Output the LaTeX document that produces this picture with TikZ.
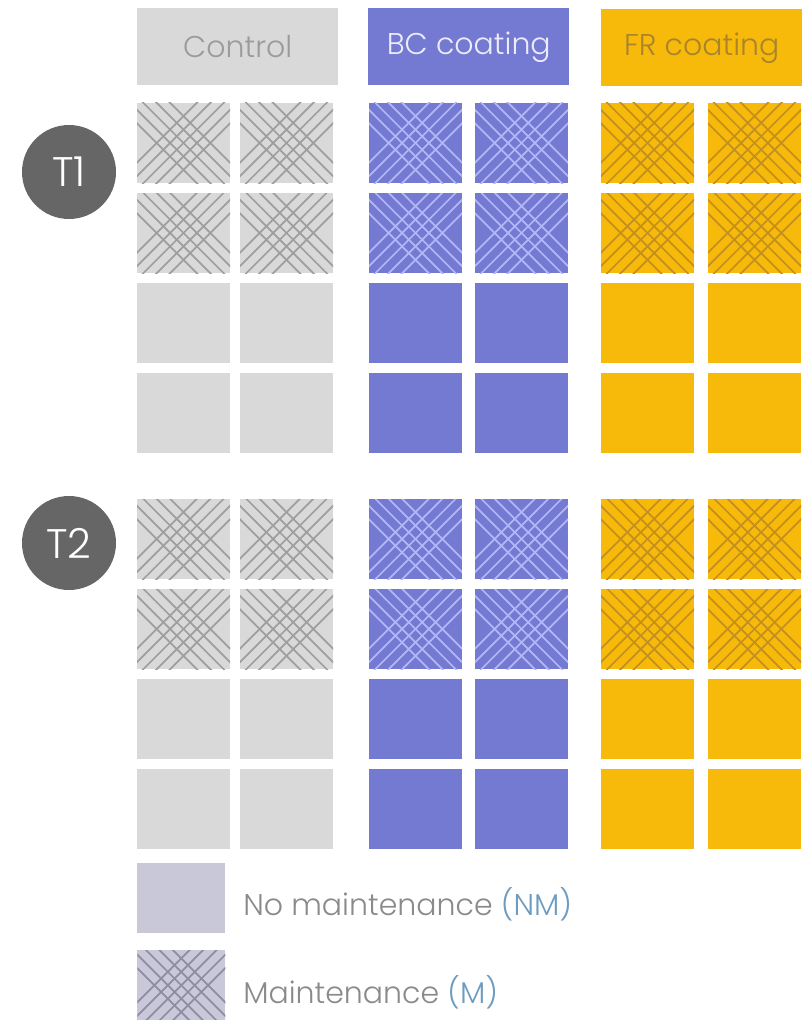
\documentclass[tikz,border=0pt]{standalone}
\usepackage{fontspec}
\IfFontExistsTF{Poppins Light}{\setmainfont{Poppins Light}}{\setmainfont{Poppins}}
\definecolor{ctrl}{HTML}{D9D9D9}
\definecolor{ctrlhatch}{HTML}{9E9E9E}
\definecolor{bc}{HTML}{7479D1}
\definecolor{bchatch}{HTML}{B4B7F7}
\definecolor{fr}{HTML}{F7BA0B}
\definecolor{frhatch}{HTML}{C38F1E}
\definecolor{circ}{HTML}{666666}
\definecolor{leg}{HTML}{C9C8D8}
\definecolor{leghatch}{HTML}{8D8CA3}
\definecolor{legtext}{HTML}{8A8A8A}
\definecolor{legblue}{HTML}{6E9BC0}
\definecolor{ctrltext}{HTML}{9B9B9B}
\definecolor{bctext}{HTML}{ECECFB}
\definecolor{frtext}{HTML}{A9842C}
\begin{document}
\begin{tikzpicture}[x=0.75pt,y=-0.75pt,
  cell/.style={rectangle, minimum width=93*0.75pt, minimum height=80*0.75pt, inner sep=0pt, outer sep=0pt, anchor=north west},
  header/.style={rectangle, minimum width=201*0.75pt, minimum height=77*0.75pt, inner sep=0pt, anchor=north west, font=\fontsize{22.5}{26}\selectfont},
  legbox/.style={rectangle, fill=leg, minimum width=88*0.75pt, minimum height=70*0.75pt, inner sep=0pt, anchor=north west},
  legtxt/.style={anchor=base west, inner sep=0pt, text=legtext, font=\fontsize{22.5}{26}\selectfont},
  tcirc/.style={circle, fill=circ, minimum size=94*0.75pt, inner sep=0pt, text=white, font=\fontsize{31}{36}\selectfont},
  hatch/.style={path picture={
    \foreach \k in {-2,-1,...,2}{
      \draw[#1,line width=1.3pt] (path picture bounding box.center) ++({\k*6.72-50},{-\k*6.72-50}) -- ++(100,100);
      \draw[#1,line width=1.3pt] (path picture bounding box.center) ++({\k*6.72-50},{\k*6.72+50}) -- ++(100,-100);
    }}}
]
\useasboundingbox (0,0) rectangle (810,1020);
% headers
\node[header, fill=ctrl, text=ctrltext] (hC) at (137,8) {Control};
\node[header, fill=bc, text=bctext] (hB) at (368,8) {BC coating};
\node[header, fill=fr, text=frtext] (hF) at (601,9) {FR coating};
% circles
\node[tcirc] (T1) at (69,172) {T1};
\node[tcirc] (T2) at (69,543) {T2};
% cells
\foreach \g/\fc/\hc/\xa/\xb in {C/ctrl/ctrlhatch/137/240, B/bc/bchatch/369/475, F/fr/frhatch/601/708}{
  \foreach \t/\ya in {1/103, 2/499}{
    \foreach \r in {1,2}{
      \node[cell, fill=\fc, hatch=\hc] (\g-\t-\r-1) at (\xa,{\ya+(\r-1)*90}) {};
      \node[cell, fill=\fc, hatch=\hc] (\g-\t-\r-2) at (\xb,{\ya+(\r-1)*90}) {};
    }
    \foreach \r in {3,4}{
      \node[cell, fill=\fc] (\g-\t-\r-1) at (\xa,{\ya+(\r-1)*90}) {};
      \node[cell, fill=\fc] (\g-\t-\r-2) at (\xb,{\ya+(\r-1)*90}) {};
    }
  }
}
% legend
\node[legbox] (lNM) at (137,863) {};
\node[legbox, hatch=leghatch] (lM) at (137,950) {};
\node[legtxt] (tNM) at (243,915) {No maintenance \textcolor{legblue}{(NM)}};
\node[legtxt] (tM) at (243,1003) {Maintenance \textcolor{legblue}{(M)}};
\end{tikzpicture}
\end{document}
